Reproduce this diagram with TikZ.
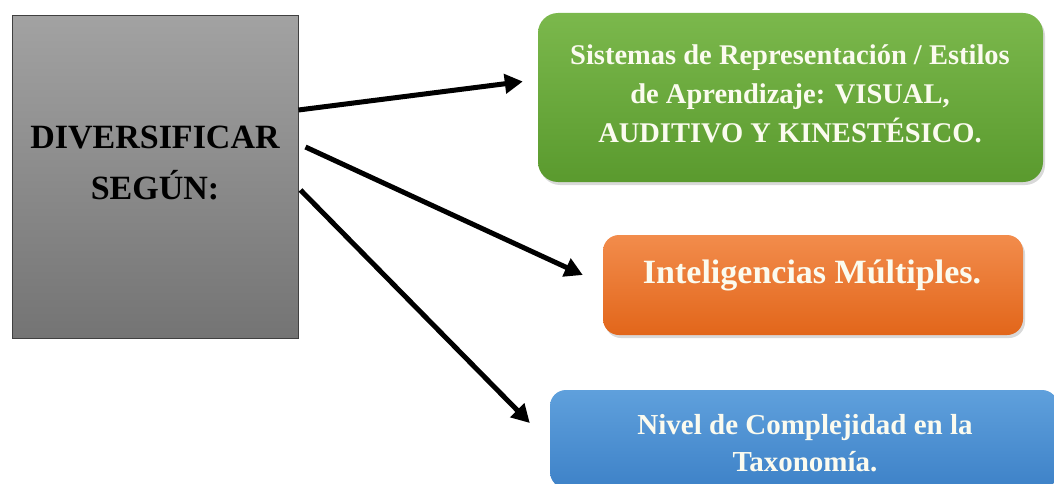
\documentclass[tikz,border=0pt]{standalone}
\usepackage{fontspec}
\setmainfont{Liberation Serif}
\usetikzlibrary{arrows.meta}
\usetikzlibrary{shadows}

\definecolor{divTop}{HTML}{A2A2A2}
\definecolor{divBot}{HTML}{747474}
\definecolor{sisTop}{HTML}{7BB84C}
\definecolor{sisBot}{HTML}{5A9A2E}
\definecolor{intTop}{HTML}{F28C4C}
\definecolor{intBot}{HTML}{E2661A}
\definecolor{nivTop}{HTML}{5FA0DC}
\definecolor{nivBot}{HTML}{3E82C8}
\definecolor{txtCream}{HTML}{FBFBEF}

\begin{document}
\begin{tikzpicture}[x=1pt,y=-1pt,
    tbox/.style={rounded corners=16pt, inner sep=0pt,
        drop shadow={shadow xshift=2pt,shadow yshift=-3pt,opacity=0.3}},
    tlabel/.style={text=txtCream, align=center, inner sep=0pt},
    arr/.style={line width=5pt, -{Triangle[length=18pt,width=19pt]}}]
    \useasboundingbox (0,0) rectangle (1054,484);
    \clip (0,0) rectangle (1054,484);

    % gray box on the left
    \node[draw=black!75, line width=1pt, top color=divTop, bottom color=divBot,
        minimum width=286pt, minimum height=322pt, inner sep=0pt] (div) at (155,177) {};
    \node[align=center, inner sep=0pt, font=\bfseries\fontsize{34}{51}\selectfont]
        (divtxt) at (155,163) {DIVERSIFICAR\\SEGÚN:};

    % green box
    \node[tbox, rounded corners=20pt, top color=sisTop, bottom color=sisBot,
        minimum width=505pt, minimum height=169pt] (sis) at (790.5,97.5) {};
    \node[tlabel, font=\bfseries\fontsize{28.5}{39}\selectfont] (sistxt) at (790,94)
        {Sistemas de Representación / Estilos\\de Aprendizaje: VISUAL,\\AUDITIVO Y KINESTÉSICO.};

    % orange box
    \node[tbox, top color=intTop, bottom color=intBot,
        minimum width=420pt, minimum height=100pt] (int) at (813,285) {};
    \node[tlabel, anchor=base, font=\bfseries\fontsize{34}{40}\selectfont] (inttxt) at (812,283)
        {Inteligencias Múltiples.};

    % blue box, cut by the bottom edge
    \node[tbox, top color=nivTop, bottom color=nivBot,
        minimum width=508pt, minimum height=98pt] (niv) at (804,439) {};
    \node[tlabel, font=\bfseries\fontsize{29}{37}\selectfont] (nivtxt) at (805,443)
        {Nivel de Complejidad en la\\Taxonomía.};

    % arrows
    \draw[arr] ([yshift=67pt]div.east) -- ([xshift=-15pt,yshift=16pt]sis.west);
    \draw[arr] ([xshift=7pt,yshift=30pt]div.east) -- ([xshift=-20pt,yshift=10pt]int.west);
    \draw[arr] ([xshift=2pt,yshift=-13pt]div.east) -- ([xshift=-20pt,yshift=16pt]niv.west);
\end{tikzpicture}
\end{document}
